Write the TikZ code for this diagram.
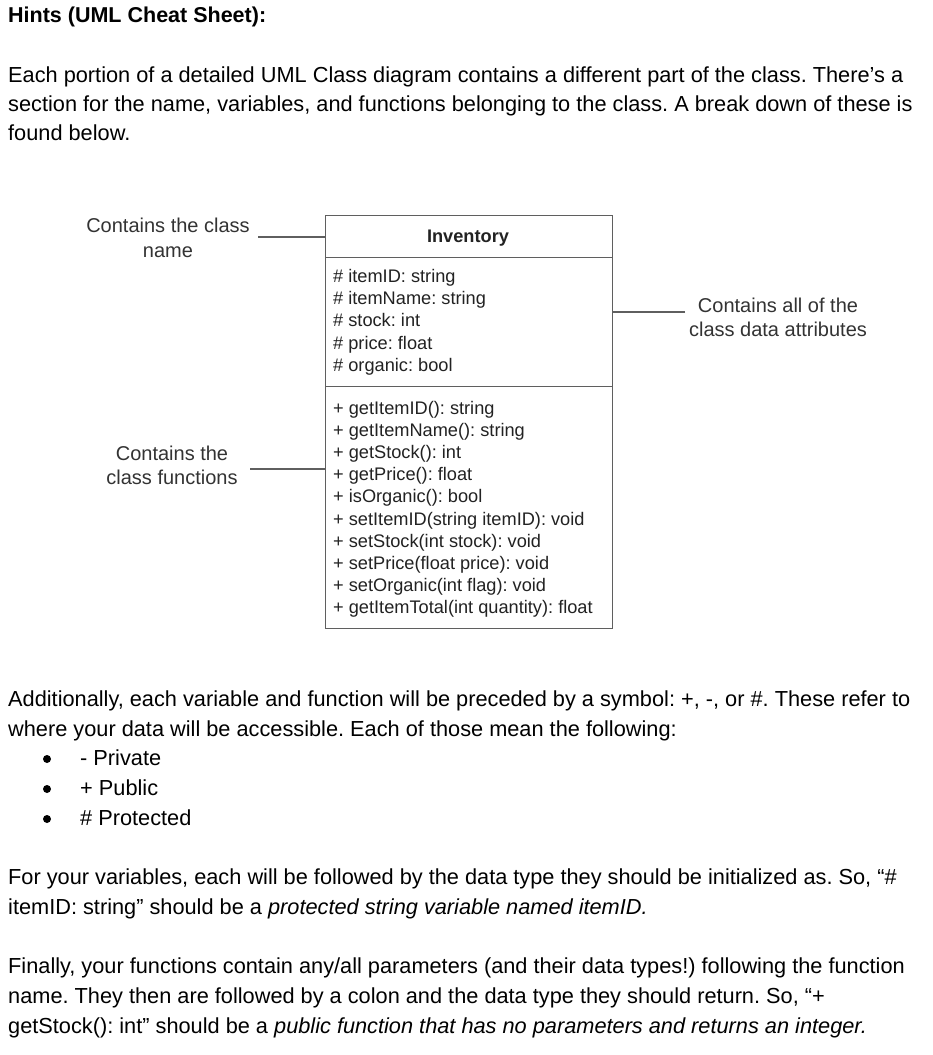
\documentclass[tikz,border=0pt]{standalone}
\usepackage{fontspec}
\setmainfont{Liberation Sans}
\frenchspacing
\definecolor{linegray}{RGB}{95,95,95}
\definecolor{labelgray}{RGB}{51,51,51}
\definecolor{boxtext}{RGB}{34,34,34}
\tikzset{
  body/.style={anchor=base west, inner sep=0pt, font=\fontsize{21.75}{29}\selectfont, text=black},
  boxtxt/.style={anchor=base west, inner sep=0pt, font=\fontsize{18.2}{22}\selectfont, text=boxtext},
  lbl/.style={align=center, inner sep=0pt, font=\fontsize{20}{24.5}\selectfont, text=labelgray},
  part/.style={draw=linegray, line width=1.2pt, minimum width=287pt, inner sep=0pt, anchor=north west},
  conn/.style={draw=linegray, line width=1.3pt},
  bul/.style={circle, fill=black, inner sep=0pt, minimum size=8pt}
}
\begin{document}
\begin{tikzpicture}[x=1pt,y=-1pt]
\useasboundingbox[fill=white] (0,0) rectangle (933,1055);
% top text
\node[body, font=\fontsize{21.5}{29}\selectfont\bfseries] (h) at (8,22) {Hints (UML Cheat Sheet):};
\node[body] (p1) at (8,82) {Each portion of a detailed UML Class diagram contains a different part of the class. There’s a};
\node[body] (p2) at (8,111) {section for the name, variables, and functions belonging to the class. A break down of these is};
\node[body] (p3) at (8,140) {found below.};
% UML class box
\node[part, minimum height=42pt] (cname) at (325,215) {};
\node[part, minimum height=129pt] (attr) at (325,257) {};
\node[part, minimum height=242pt] (meth) at (325,386) {};
\node[boxtxt, anchor=base, font=\fontsize{18.2}{22}\selectfont\bfseries] (inv) at (468,242) {Inventory};
\foreach \t [count=\i] in {{\# itemID: string},{\# itemName: string},{\# stock: int},{\# price: float},{\# organic: bool}}
  \node[boxtxt] (a\i) at (333,{282+22.4*(\i-1)}) {\t};
\foreach \t [count=\i] in {{+ getItemID(): string},{+ getItemName(): string},{+ getStock(): int},{+ getPrice(): float},{+ isOrganic(): bool},{+ setItemID(string itemID): void},{+ setStock(int stock): void},{+ setPrice(float price): void},{+ setOrganic(int flag): void},{+ getItemTotal(int quantity): float}}
  \node[boxtxt] (m\i) at (333,{414+22.2*(\i-1)}) {\t};
% labels and connectors
\node[lbl] (l1) at (168,238) {Contains the class\\name};
\node[lbl] (l2) at (172,465.5) {Contains the\\class functions};
\node[lbl] (l3) at (778,317.5) {Contains all of the\\class data attributes};
\coordinate (c1) at (258,237);
\coordinate (c2) at (250,469);
\coordinate (c3) at (685,312);
\draw[conn] (c1) -- (c1 -| cname.west);
\draw[conn] (c2) -- (c2 -| meth.west);
\draw[conn] (c3) -- (c3 -| attr.east);
% lower text
\node[body] (q1) at (8,706) {Additionally, each variable and function will be preceded by a symbol: +, -, or \#. These refer to};
\node[body] (q2) at (8,736) {where your data will be accessible. Each of those mean the following:};
\node[bul] (b1) at (47,759) {};
\node[bul] (b2) at (47,789) {};
\node[bul] (b3) at (47,819) {};
\node[body] (t1) at (80,765) {- Private};
\node[body] (t2) at (80,795) {+ Public};
\node[body] (t3) at (80,825) {\# Protected};
\node[body] (r1) at (8,884) {For your variables, each will be followed by the data type they should be initialized as. So, “\#};
\node[body] (r2) at (8,914) {itemID: string” should be a \textit{protected string variable named itemID.}};
\node[body] (s1) at (8,973) {Finally, your functions contain any/all parameters (and their data types!) following the function};
\node[body] (s2) at (8,1003) {name. They then are followed by a colon and the data type they should return. So, “+};
\node[body] (s3) at (8,1033) {getStock(): int” should be a \textit{public function that has no parameters and returns an integer.}};
\end{tikzpicture}
\end{document}
